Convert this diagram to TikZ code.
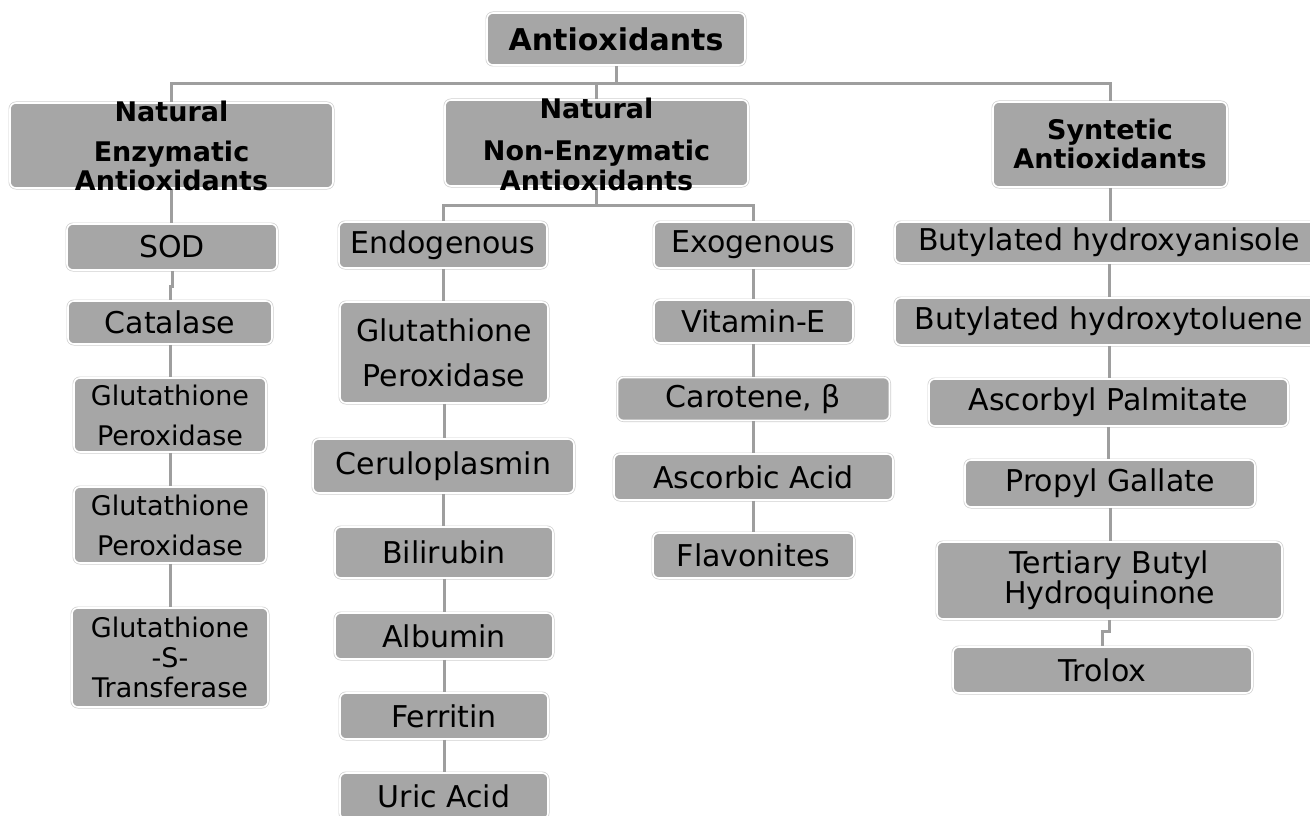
\documentclass[tikz,border=0pt]{standalone}
\usepackage{fontspec}
\setmainfont{DejaVu Sans}
\usetikzlibrary{positioning}
\definecolor{boxgray}{HTML}{A6A6A6}
\definecolor{edgegray}{HTML}{CFCFCF}
\definecolor{linegray}{HTML}{9E9E9E}
\def\regfont{\fontsize{30}{34}\selectfont}
\def\smallfont{\fontsize{27}{30}\selectfont}
\def\headfont{\bfseries\fontsize{27}{30}\selectfont}

\begin{document}
\begin{tikzpicture}[
    x=1pt, y=-1pt,
    box/.style 2 args={rectangle, rounded corners=6pt, fill=boxgray,
        draw=white, line width=1.6pt, preaction={draw=edgegray, line width=3pt},
        inner sep=0pt, align=center, font=\regfont,
        minimum width=#1pt, minimum height=#2pt},
    txt/.style={inner sep=0pt, align=center, font=\headfont},
    link/.style={draw=linegray, line width=3pt}
]
\useasboundingbox (0,0) rectangle (1310,816);

% top level
\node[box={258}{52}, font=\bfseries\fontsize{30}{34}\selectfont] (anti) at (616,39) {Antioxidants};
\node[box={323}{85}] (nea) at (171.5,145.5) {};
\node[box={303}{86}] (nnea) at (596.5,143) {};
\node[box={234}{85}] (syn) at (1110,144.5) {};

% enzymatic
\node[box={210}{46}] (sod) at (172,247) {SOD};
\node[box={204}{43}] (cat) at (170,322.5) {Catalase};
\node[box={192}{74}, font=\smallfont] (gpa) at (170,415) {Glutathione\\[10pt]Peroxidase};
\node[box={192}{76}, font=\smallfont] (gpb) at (170,525) {Glutathione\\[10pt]Peroxidase};
\node[box={196}{99}, font=\smallfont] (gst) at (170,657.5) {Glutathione\\-S-\\Transferase};

% non-enzymatic
\node[box={208}{46}] (endo) at (443,245) {Endogenous};
\node[box={208}{101}] (gpm) at (444,352.5) {Glutathione\\[11pt]Peroxidase};
\node[box={261}{54}] (cer) at (443.5,466) {Ceruloplasmin};
\node[box={218}{51}] (bil) at (444,552.5) {Bilirubin};
\node[box={218}{46}] (alb) at (444,636) {Albumin};
\node[box={208}{46}] (fer) at (444,716) {Ferritin};
\node[box={208}{46}] (uric) at (444,796) {Uric Acid};

\node[box={199}{46}] (exo) at (753.5,245) {Exogenous};
\node[box={199}{43}] (vite) at (753.5,321.5) {Vitamin-E};
\node[box={272}{43}] (carot) at (753.5,399) {Carotene, β};
\node[box={279}{46}] (ascac) at (753.5,477) {Ascorbic Acid};
\node[box={201}{45}] (flav) at (753.5,555.5) {Flavonites};

% synthetic
\node[box={428}{41}] (bha) at (1109,242.5) {Butylated hydroxyanisole};
\node[box={428}{47}] (bht) at (1109,321.5) {Butylated hydroxytoluene};
\node[box={359}{47}] (ascp) at (1108.5,402.5) {Ascorbyl Palmitate};
\node[box={290}{47}] (propg) at (1110,483.5) {Propyl Gallate};
\node[box={345}{77}] (tbhq) at (1109.5,580.5) {Tertiary Butyl\\[-4pt]Hydroquinone};
\node[box={299}{46}] (trolox) at (1102.5,670) {Trolox};

% links
\draw[link] (anti.south) -- ++(0,18) coordinate (top);
\draw[link] (nea.north) |- (top) -| (syn.north);
\draw[link] (nnea.north) -- (nnea.north |- top);
\draw[link] (nnea.south) -- ++(0,19) coordinate (mid);
\draw[link] (endo.north) |- (mid) -| (exo.north);
\draw[link] (sod.south) -- ++(0,16) -| (cat.north);
\draw[link] (tbhq.south) -- ++(0,12) -| (trolox.north);
\foreach \a/\b in {nea/sod, cat/gpa, gpa/gpb, gpb/gst,
    endo/gpm, gpm/cer, cer/bil, bil/alb, alb/fer, fer/uric,
    exo/vite, vite/carot, carot/ascac, ascac/flav,
    syn/bha, bha/bht, bht/ascp, ascp/propg, propg/tbhq}
  \draw[link] (\a.south) -- (\a.south |- \b.north);

% heading texts
\node[txt] (nea-t) at (171.5,146) {Natural\\[10pt]Enzymatic\\[-1pt]Antioxidants};
\node[txt] (nnea-t) at (596.5,144) {Natural\\[12pt]Non-Enzymatic\\Antioxidants};
\node[txt] (syn-t) at (1110,143.5) {Syntetic\\[-1pt]Antioxidants};
\end{tikzpicture}
\end{document}
